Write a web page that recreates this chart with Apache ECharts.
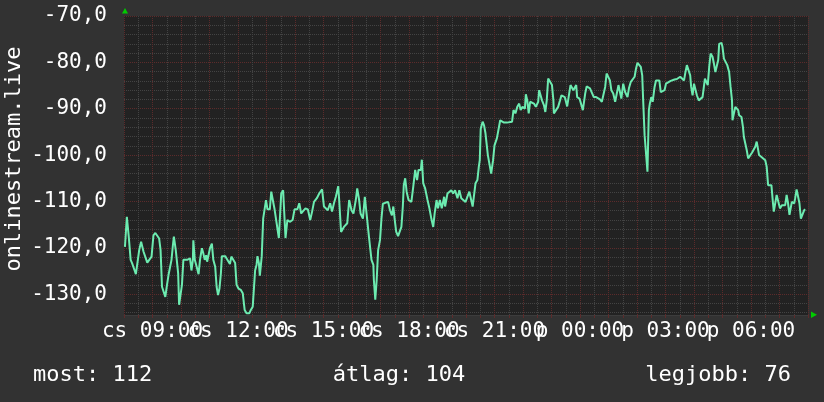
<!DOCTYPE html>
<html>
<head>
<meta charset="utf-8">
<script src="https://cdn.jsdelivr.net/npm/echarts@6/dist/echarts.min.js"></script>
<style>
html,body{margin:0;padding:0;background:#323232;}
#chart{width:824px;height:402px;}
</style>
</head>
<body>
<div id="chart"></div>
<script>
// minutes since 08:00 (Thursday)
const timeMinutes = [2,6,9,10,14,17,22,25,29,32,36,41,45,49,53,58,62,66,70,74,77,80,83,87,90,94,97,100,103,105,108,109,111,114,116,119,122,125,129,133,136,139,142,145,146,149,153,157,160,164,167,170,173,175,178,181,185,188,192,195,198,201,204,206,209,213,216,220,223,226,230,234,237,241,246,250,254,258,264,267,271,274,276,279,281,284,286,290,293,299,302,307,310,314,317,321,326,328,331,335,340,344,349,355,359,365,369,373,377,382,387,392,396,400,406,411,417,421,425,429,434,438,442,446,451,453,457,463,467,470,474,479,483,488,491,495,498,503,507,509,512,516,521,525,526,529,532,535,539,542,545,550,556,560,564,567,570,573,577,581,584,587,589,592,595,599,605,609,613,617,620,625,627,630,634,639,643,647,651,654,658,661,665,669,674,676,681,685,689,693,697,702,706,710,714,719,723,727,731,734,737,740,744,747,749,751,755,758,761,764,766,769,773,777,780,785,789,792,796,800,806,810,817,820,824,828,832,835,839,844,846,849,852,855,859,863,867,872,874,876,880,884,887,890,893,897,901,904,905,909,914,918,921,925,928,931,933,937,940,943,946,949,952,954,959,963,966,968,971,974,978,981,985,989,994,998,1002,1006,1009,1013,1016,1020,1023,1026,1030,1034,1037,1041,1044,1047,1051,1055,1060,1063,1067,1071,1075,1078,1081,1085,1088,1091,1093,1096,1099,1102,1105,1107,1110,1113,1117,1120,1123,1127,1130,1134,1138,1141,1145,1151,1155,1159,1164,1168,1171,1175,1179,1182,1185,1189,1192,1194,1197,1200,1203,1206,1210,1214,1218,1223,1225,1229,1232,1235,1239,1242,1245,1248,1251,1253,1258,1260,1263,1267,1270,1274,1277,1280,1281,1284,1287,1290,1293,1295,1300,1303,1305,1308,1311,1314,1318,1322,1326,1329,1332,1335,1337,1342,1346,1350,1353,1356,1360,1363,1366,1368,1371,1374,1378,1381,1385,1389,1392,1395,1398,1401,1404,1406,1411,1413,1416,1419,1422,1425,1429,1432,1434];

const signalValues = [-119.8,-113.3,-113.3,-117.6,-122.6,-123.3,-124.8,-125.7,-125.7,-120.5,-118.7,-120.8,-120.8,-123.2,-123.0,-121.9,-117.3,-116.8,-116.8,-118.0,-120.5,-128.4,-128.8,-130.6,-128.4,-125.7,-125.4,-122.6,-119.4,-117.6,-117.8,-120.5,-120.1,-125.5,-132.3,-132.3,-128.0,-122.6,-122.3,-122.6,-122.3,-122.3,-124.9,-122.6,-118.4,-122.6,-124.1,-125.7,-122.6,-120.1,-121.2,-122.6,-121.6,-123.0,-123.0,-120.1,-119.1,-122.6,-124.1,-128.4,-130.2,-128.8,-125.5,-121.8,-121.6,-121.8,-122.3,-122.6,-123.5,-121.9,-121.9,-123.3,-128.0,-128.8,-129.1,-129.8,-133.4,-134.1,-134.1,-133.4,-132.7,-132.7,-124.9,-123.7,-121.8,-123.3,-126.0,-121.8,-113.7,-109.7,-111.7,-111.7,-107.9,-108.3,-111.7,-111.9,-117.9,-117.9,-108.3,-107.6,-117.9,-114.0,-114.4,-114.0,-111.7,-111.7,-110.4,-112.6,-112.6,-111.5,-111.7,-114.0,-112.2,-110.1,-109.3,-108.3,-107.4,-111.1,-111.0,-111.9,-110.4,-112.2,-110.4,-109.0,-106.7,-109.7,-116.6,-115.5,-115.1,-114.7,-109.7,-111.9,-112.6,-109.7,-107.2,-109.7,-112.6,-113.7,-109.0,-108.6,-114.0,-117.9,-122.6,-123.7,-126.9,-131.2,-126.9,-120.5,-118.3,-113.7,-110.5,-110.3,-110.1,-111.9,-113.0,-111.1,-114.0,-116.5,-117.5,-117.3,-115.5,-111.1,-106.5,-105.0,-107.9,-109.7,-110.1,-106.8,-103.2,-105.4,-103.2,-103.2,-101.0,-106.1,-107.2,-109.7,-111.5,-113.7,-115.5,-112.6,-109.7,-111.5,-109.7,-111.5,-109.0,-111.1,-108.3,-107.9,-107.6,-108.3,-107.6,-109.3,-107.6,-109.3,-109.7,-110.1,-110.4,-107.9,-108.3,-111.1,-110.8,-106.1,-105.4,-102.5,-101.1,-94.3,-92.8,-93.6,-95.3,-95.3,-100.0,-100.4,-104.0,-101.1,-97.9,-96.4,-96.1,-92.5,-92.3,-93.0,-93.0,-92.6,-92.8,-90.3,-91.0,-89.6,-88.9,-90.3,-89.6,-90.0,-86.9,-88.2,-91.0,-88.5,-88.5,-88.9,-89.6,-88.5,-86.0,-86.0,-88.2,-89.2,-90.7,-88.2,-83.5,-83.5,-84.9,-88.2,-91.0,-91.0,-89.6,-88.2,-87.1,-87.1,-87.5,-87.8,-89.5,-89.5,-84.9,-84.6,-86.0,-85.6,-84.9,-87.5,-87.8,-88.2,-90.3,-90.3,-86.7,-85.2,-85.4,-85.6,-86.0,-87.5,-87.5,-87.8,-88.0,-88.5,-88.2,-85.3,-82.4,-82.8,-83.9,-86.0,-86.7,-88.5,-88.9,-84.9,-84.9,-87.8,-84.6,-86.4,-87.5,-85.6,-84.2,-84.2,-83.1,-81.3,-80.1,-80.3,-81.0,-82.8,-88.2,-95.7,-96.1,-103.6,-90.3,-88.9,-87.5,-88.5,-85.3,-83.9,-83.5,-83.9,-86.4,-86.7,-86.0,-84.6,-84.2,-84.0,-83.9,-83.7,-83.6,-83.6,-83.1,-83.5,-83.9,-82.1,-80.6,-80.6,-82.8,-85.3,-87.1,-84.6,-84.9,-87.1,-88.2,-88.2,-87.5,-83.5,-83.9,-84.9,-81.0,-78.1,-78.8,-80.3,-82.1,-82.1,-79.5,-76.0,-75.8,-76.7,-79.2,-79.2,-80.6,-82.1,-85.3,-88.2,-92.5,-92.5,-89.6,-89.5,-90.3,-91.4,-91.8,-93.9,-96.1,-96.1,-98.9,-100.7,-100.4,-99.5,-99.3,-98.2,-97.1,-97.5,-100.0,-100.4,-100.7,-101.1,-102.5,-106.5,-106.5,-106.5,-110.1,-112.2,-112.5,-108.6,-108.6,-111.5,-110.8,-110.4,-110.8,-108.6,-110.4,-112.9,-112.9,-110.1,-110.4,-109.3,-107.4,-107.4,-110.4,-113.7,-113.7,-111.9,-111.7];

const xTickMinutes = [60,240,420,600,780,960,1140,1320];
const xTickLabels = ['cs 09:00','cs 12:00','cs 15:00','cs 18:00','cs 21:00','p 00:00','p 03:00','p 06:00'];
const yTickValues = [-70,-80,-90,-100,-110,-120,-130];
const yTickLabels = ['-70,0','-80,0','-90,0','-100,0','-110,0','-120,0','-130,0'];
const axisTitle = 'onlinestream.live';
const legendTexts = ['most: 112','átlag: 104','legjobb: 76'];

const FONT = 'DejaVu Sans Mono';
const RED = '#5c2b2b';
const GRAY = '#434343';
const NONE = 'rgba(0,0,0,0)';

// y split line colours: ticks every 0.5 starting at -134.5
const yColors = [];
for (let i = 0; i < 20; i++) {
  if (i === 9) yColors.push(RED);
  else if (i % 4 === 1) yColors.push(GRAY);
  else yColors.push(NONE);
}

const chart = echarts.init(document.getElementById('chart'), null, {renderer: 'canvas'});
chart.setOption({
  backgroundColor: '#323232',
  animation: false,
  grid: {left: 124, right: 16, top: 16, bottom: 87, show: true, backgroundColor: '#222222', borderWidth: 0},
  xAxis: {
    type: 'value', min: 0, max: 1440, interval: 30,
    axisLine: {show: true, lineStyle: {color: '#3c3c3c', width: 1}},
    axisTick: {show: true, length: 3, lineStyle: {color: '#5c2b2b'}},
    splitLine: {show: true, lineStyle: {color: [RED, GRAY], width: 1, type: [1, 1]}},
    axisLabel: {
      color: '#ffffff', fontFamily: FONT, fontSize: 21, margin: 6,
      formatter: function (v) { const k = xTickMinutes.indexOf(Math.round(v)); return k >= 0 ? xTickLabels[k] : ''; }
    }
  },
  yAxis: {
    type: 'value', min: -134.5, max: -70, interval: 0.5,
    axisLine: {show: false}, axisTick: {show: false},
    splitLine: {show: true, lineStyle: {color: yColors, width: 1, type: [1, 1]}},
    axisLabel: {
      color: '#ffffff', fontFamily: FONT, fontSize: 21, margin: 17,
      formatter: function (v) { const k = yTickValues.findIndex(t => Math.abs(t - v) < 1e-6); return k >= 0 ? yTickLabels[k] : ''; }
    }
  },
  series: [{
    type: 'line',
    data: timeMinutes.map((t, i) => [t, signalValues[i]]),
    showSymbol: false,
    lineStyle: {color: '#6cebb0', width: 2},
    z: 5
  }],
  graphic: [
    {type: 'text', x: 14, y: 159, rotation: Math.PI / 2,
     style: {text: axisTitle, fill: '#ffffff', font: '22px "DejaVu Sans Mono"', align: 'center', verticalAlign: 'middle'}},
    {type: 'text', x: 33, y: 375,
     style: {text: legendTexts[0], fill: '#ffffff', font: '22px "DejaVu Sans Mono"', align: 'left', verticalAlign: 'middle'}},
    {type: 'text', x: 399, y: 375,
     style: {text: legendTexts[1], fill: '#ffffff', font: '22px "DejaVu Sans Mono"', align: 'center', verticalAlign: 'middle'}},
    {type: 'text', x: 791, y: 375,
     style: {text: legendTexts[2], fill: '#ffffff', font: '22px "DejaVu Sans Mono"', align: 'right', verticalAlign: 'middle'}},
    {type: 'polygon', shape: {points: [[122, 13.5], [128, 13.5], [125, 8]]}, style: {fill: '#00cc00'}},
    {type: 'polygon', shape: {points: [[811, 311.5], [811, 318], [817, 314.8]]}, style: {fill: '#00cc00'}}
  ]
});
</script>
</body>
</html>
